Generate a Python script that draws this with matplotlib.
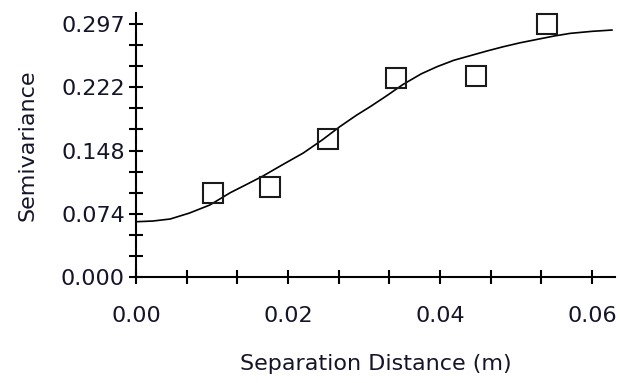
import matplotlib
matplotlib.use('Agg')
import matplotlib.pyplot as plt
from matplotlib.ticker import FixedLocator, MultipleLocator

plt.rcParams['font.family'] = ['DejaVu Sans']

# Semivariância observada (pontos)
dist_obs = [0.0101, 0.0176, 0.0253, 0.0342, 0.0447, 0.0540]
semiv_obs = [0.0986, 0.1057, 0.1620, 0.2336, 0.2360, 0.2970]

# Modelo ajustado
dist_mod = [0.0, 0.0022, 0.0045, 0.0070, 0.0097, 0.0124, 0.0145, 0.0167, 0.0193,
            0.0220, 0.0245, 0.0268, 0.0290, 0.0308, 0.0330, 0.0351, 0.0375,
            0.0396, 0.0418, 0.0440, 0.0462, 0.0483, 0.0505, 0.0528, 0.0550,
            0.0571, 0.0600, 0.0626]
semiv_mod = [0.0649, 0.0657, 0.0681, 0.0750, 0.0845, 0.0990, 0.1085, 0.1186, 0.1320,
             0.1456, 0.1610, 0.1765, 0.1900, 0.2000, 0.2130, 0.2260, 0.2385,
             0.2470, 0.2545, 0.2600, 0.2655, 0.2704, 0.2750, 0.2791, 0.2830,
             0.2861, 0.2885, 0.2900]

yticks = [0.0, 0.07425, 0.1485, 0.22275, 0.297]
ytick_labels = ['0.000', '0.074', '0.148', '0.222', '0.297']
xticks = [0.0, 0.02, 0.04, 0.06]
xtick_labels = ['0.00', '0.02', '0.04', '0.06']

fig = plt.figure(figsize=(6.2, 3.83), dpi=100)
ax = fig.add_axes([0.2194, 0.2768, 0.7725, 0.6892])

ax.plot(dist_mod, semiv_mod, color='black', lw=1.2)
ax.plot(dist_obs, semiv_obs, linestyle='none', marker='s', markersize=14,
        markerfacecolor='none', markeredgecolor='#1a1a1a', markeredgewidth=1.5,
        clip_on=False)

ax.set_xlim(0, 0.0630)
ax.set_ylim(0, 0.310)

ax.yaxis.set_major_locator(FixedLocator(yticks))
ax.set_yticklabels(ytick_labels)
ax.yaxis.set_minor_locator(MultipleLocator(0.02475))
ax.xaxis.set_major_locator(FixedLocator(xticks))
ax.set_xticklabels(xtick_labels)
ax.xaxis.set_minor_locator(MultipleLocator(0.02 / 3))

for s in ['top', 'right']:
    ax.spines[s].set_visible(False)
for s in ['left', 'bottom']:
    ax.spines[s].set_linewidth(1.5)

ax.tick_params(axis='y', which='both', direction='inout', length=10, width=1.5,
               labelsize=16, pad=3, colors='black', labelcolor='#15152a')
ax.tick_params(axis='x', which='both', direction='inout', length=10, width=1.5,
               labelsize=16, pad=16, colors='black', labelcolor='#15152a')

ax.set_xlabel('Separation Distance (m)', fontsize=16, color='#15152a')
ax.set_ylabel('Semivariance', fontsize=16, color='#15152a')
ax.xaxis.set_label_coords(0.5, -0.29)
ax.yaxis.set_label_coords(-0.205, 0.5)

plt.savefig('out.png', dpi=100)
plt.close()
